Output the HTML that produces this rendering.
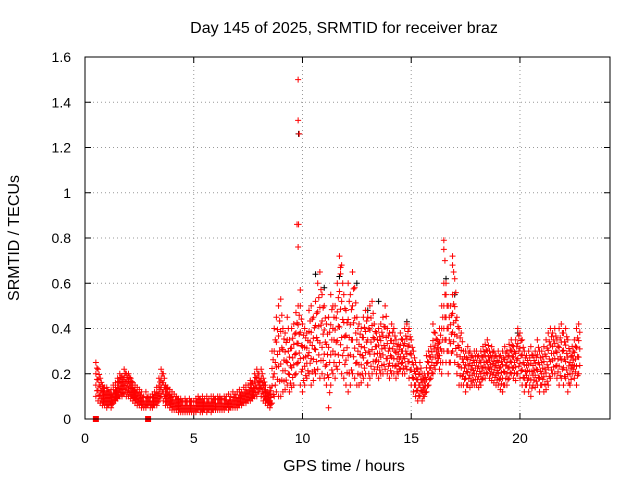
<!DOCTYPE html>
<html><head><meta charset="utf-8"><style>
body{margin:0;background:#fff;}
svg{display:block;font-family:"Liberation Sans",sans-serif;}
</style></head><body>
<svg id="chart" width="640" height="480" xmlns="http://www.w3.org/2000/svg">
<text x="344" y="33" font-size="16" text-anchor="middle">Day 145 of 2025, SRMTID for receiver braz</text>
<text x="344" y="471" font-size="16" text-anchor="middle">GPS time / hours</text>
<text x="19" y="238" font-size="16" text-anchor="middle" transform="rotate(-90 19 238)">SRMTID / TECUs</text>
<g id="grid"></g>
<g id="ticks"></g>
<g id="marks"></g>
<rect x="85" y="57" width="525" height="362" fill="none" stroke="#000" stroke-width="1"/>
</svg>
<script>
const xTicks=[0,5,10,15,20];
const yTicks=[0,0.2,0.4,0.6,0.8,1,1.2,1.4,1.6];
const yTickLabels=["0","0.2","0.4","0.6","0.8","1","1.2","1.4","1.6"];
const tStart=0.5, tStep=0.1;
const redHi=[.25,.22,.18,.15,.14,
.14,.12,.13,.15,.16,.18,.2,.19,.22,.2,
.2,.18,.16,.15,.14,.13,.12,.1,.12,.1,
.1,.11,.12,.14,.18,.22,.2,.15,.14,.13,
.12,.11,.1,.09,.09,.08,.09,.08,.09,.08,
.08,.09,.1,.09,.1,.09,.1,.09,.1,.1,
.09,.1,.1,.09,.1,.1,.11,.1,.12,.11,
.12,.13,.12,.14,.15,.15,.17,.16,.2,.22,
.2,.22,.18,.15,.12,.14,.3,.4,.45,.5,
.53,.4,.38,.45,.35,.4,.42,.47,.5,.5,
.42,.4,.38,.48,.5,.45,.52,.6,.65,.55,
.5,.42,.45,.55,.5,.5,.6,.72,.68,.55,
.48,.6,.55,.65,.58,.45,.42,.4,.45,.48,
.45,.5,.52,.42,.38,.4,.42,.45,.5,.4,
.38,.42,.4,.35,.33,.38,.35,.4,.42,.4,
.35,.3,.25,.22,.25,.2,.2,.28,.3,.32,
.42,.38,.35,.4,.5,.6,.55,.5,.5,.55,
.62,.45,.4,.38,.3,.3,.32,.3,.28,.3,
.3,.28,.3,.32,.33,.35,.3,.32,.3,.28,
.3,.28,.3,.32,.3,.33,.35,.32,.35,.4,
.38,.35,.3,.28,.3,.32,.28,.3,.35,.3,
.3,.32,.35,.38,.4,.38,.4,.35,.4,.42,
.38,.4,.35,.3,.32,.35,.4,.42];
const redLo=[.1,.08,.07,.06,.06,
.05,.06,.05,.07,.08,.09,.1,.1,.11,.1,
.1,.09,.08,.07,.06,.06,.05,.05,.05,.06,
.05,.05,.06,.06,.08,.1,.08,.06,.06,.05,
.04,.04,.04,.03,.03,.03,.03,.03,.03,.03,
.03,.03,.04,.03,.03,.04,.03,.04,.03,.04,
.04,.04,.04,.04,.04,.05,.04,.05,.05,.05,
.05,.06,.06,.07,.07,.08,.08,.09,.1,.1,
.12,.1,.08,.07,.06,.05,.07,.1,.12,.1,
.1,.12,.13,.15,.12,.14,.15,.2,.25,.15,
.12,.15,.18,.2,.15,.17,.2,.22,.18,.2,
.18,.15,.05,.15,.2,.18,.22,.25,.2,.18,
.15,.12,.15,.2,.18,.15,.15,.16,.18,.2,
.15,.18,.2,.22,.2,.18,.2,.2,.22,.2,
.18,.2,.2,.18,.2,.22,.2,.2,.22,.18,
.15,.12,.1,.08,.1,.08,.1,.12,.15,.18,
.2,.22,.25,.22,.2,.3,.25,.2,.25,.3,
.25,.2,.15,.15,.15,.12,.15,.14,.15,.15,
.15,.14,.15,.18,.18,.2,.18,.17,.16,.15,
.15,.13,.12,.15,.15,.18,.2,.18,.17,.2,
.18,.15,.12,.15,.12,.1,.15,.14,.15,.12,
.15,.12,.13,.15,.18,.2,.2,.18,.15,.18,
.15,.18,.12,.15,.2,.18,.15,.2];
const spikeT=[9.8,9.8,9.85,9.82,9.8,9.9,9.75,16.5,16.5,16.55,16.6,16.9,16.95,16.9,11.7,11.75];
const spikeV=[1.5,1.32,1.26,0.86,0.76,0.57,0.86,0.79,0.75,0.7,0.6,0.72,0.65,0.68,0.72,0.67];
const blackT=[9.82,10.6,11.7,12.5,13.5,14.8,17.0,11.0,13.0,19.9,16.6];
const blackV=[1.26,0.64,0.63,0.6,0.52,0.43,0.55,0.58,0.48,0.38,0.62];
const squareT=[0.5,2.9];
const squareV=[0,0];

const X0=85,X1=610,Y0=419,Y1=57,XMAX=24.14,YMAX=1.6;
const xs=t=>X0+(X1-X0)*t/XMAX;
const ys=v=>Y0-(Y0-Y1)*v/YMAX;
const NS="http://www.w3.org/2000/svg";
function mk(tag,attrs,parent){const e=document.createElementNS(NS,tag);for(const k in attrs)e.setAttribute(k,attrs[k]);parent.appendChild(e);return e;}
const grid=document.getElementById('grid'),ticks=document.getElementById('ticks'),marks=document.getElementById('marks');
yTicks.forEach((v,i)=>{const y=ys(v);
 if(v>0&&v<YMAX){const g=mk('line',{x1:X0,x2:X1,y1:y,y2:y,stroke:'#999','stroke-dasharray':'1,3'},grid);
 
 }
 mk('line',{x1:X0,x2:X0+6,y1:y,y2:y,stroke:'#000'},ticks);
 mk('line',{x1:X1,x2:X1-6,y1:y,y2:y,stroke:'#000'},ticks);
 const t=mk('text',{x:71,y:y+5,'font-size':14,'text-anchor':'end'},ticks);t.textContent=yTickLabels[i];
 
 
});
xTicks.forEach(v=>{const x=xs(v);
 if(v>0){const g=mk('line',{x1:x,x2:x,y1:Y0,y2:Y1,stroke:'#999','stroke-dasharray':'1,3'},grid);
 
 }
 mk('line',{x1:x,x2:x,y1:Y0,y2:Y0-6,stroke:'#000'},ticks);
 mk('line',{x1:x,x2:x,y1:Y1,y2:Y1+6,stroke:'#000'},ticks);
 const t=mk('text',{x:x,y:443,'font-size':14,'text-anchor':'middle'},ticks);t.textContent=String(v);
 
 
});
let dRed='',dBlack='';
const cross=(t,v)=>{const x=xs(t),y=ys(v);return `M${x-3},${y}h6M${x},${y-3}v6`;};
blackT.forEach((t,i)=>{dBlack+=cross(t,blackV[i]);});
redHi.forEach((hi,i)=>{const t=tStart+i*tStep,lo=redLo[i];
 for(let k=0;k<2;k++){const tt=t+k*0.05;
  const st=Math.max(0.03,(hi-lo)/3);
  for(let v=lo+k*st*0.5;v<hi-0.01;v+=st)dRed+=cross(tt,v);
  if(k===0)dRed+=cross(tt,hi);}
});
spikeT.forEach((t,i)=>{dRed+=cross(t,spikeV[i]);});
const pb=mk('path',{d:dBlack,stroke:'#000','stroke-width':1,fill:'none'},marks);


const pr=mk('path',{d:dRed,stroke:'#f00','stroke-width':1,fill:'none'},marks);


squareT.forEach((t,i)=>{const r=mk('rect',{x:xs(t)-3,y:ys(squareV[i])-3,width:6,height:6,fill:'#f00'},marks);
 
 });
</script>
</body></html>
